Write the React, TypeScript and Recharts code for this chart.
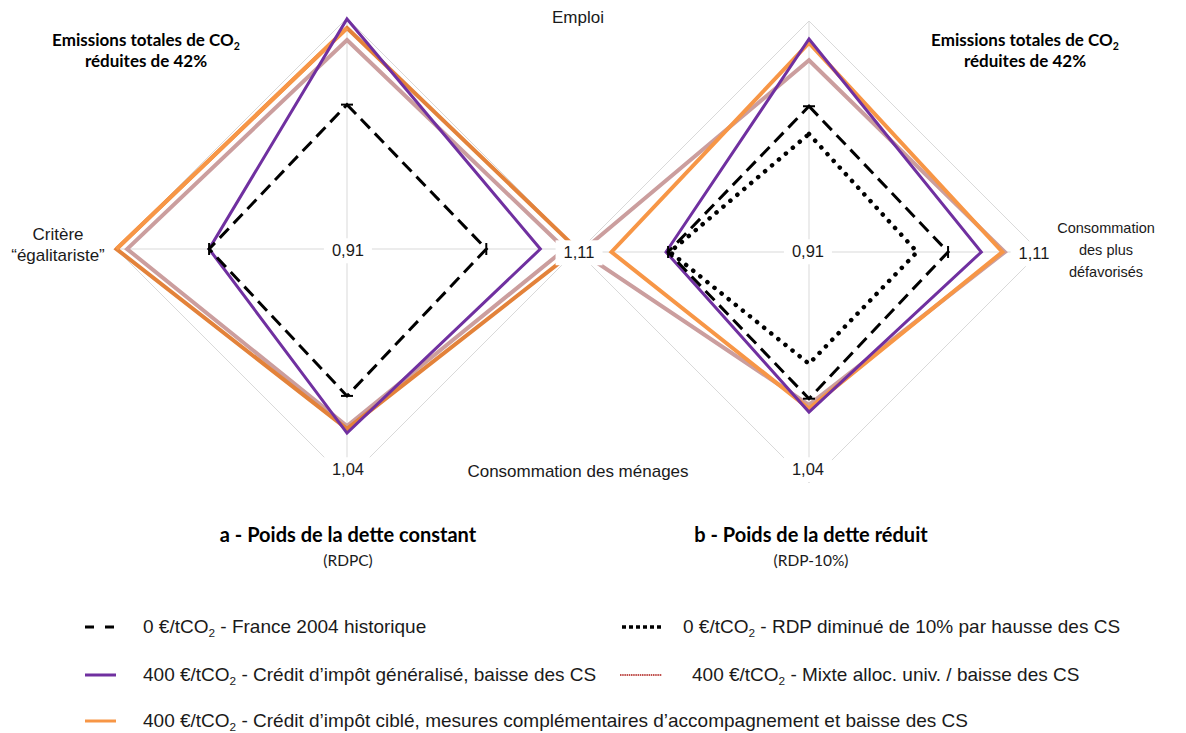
import React from "react";
import { RadarChart, Radar, PolarGrid, PolarAngleAxis, PolarRadiusAxis } from "recharts";

// four criteria, clockwise from the top
const axes = ["Emploi", "Consommation des plus défavorisés", "Consommation des ménages", "Critère “égalitariste”"];

// values, as % of the outer ring (centre = 0,91)
const aHisto = [62.5, 60.3, 63.6, 59.7];
const aGeneral = [99.6, 83.7, 79.7, 59.7];
const aMixte = [90.5, 94.4, 76.6, 95.2];
const aCible = [95.7, 99.6, 77.9, 99.8];

const bHisto = [63.1, 60.2, 63.5, 61.0];
const bRdp = [51.1, 46.8, 48.4, 60.2];
const bGeneral = [92.2, 74.6, 69.3, 61.9];
const bMixte = [83.0, 84.8, 66.2, 98.7];
const bCible = [90.5, 83.7, 67.8, 85.5];

const legendItems = [
  { key: "histo", pre: "0 €/tCO", post: " - France 2004 historique" },
  { key: "rdp", pre: "0 €/tCO", post: " - RDP diminué de 10% par hausse des CS" },
  { key: "general", pre: "400 €/tCO", post: " - Crédit d’impôt généralisé, baisse des CS" },
  { key: "mixte", pre: "400 €/tCO", post: " - Mixte alloc. univ. / baisse des CS" },
  { key: "cible", pre: "400 €/tCO", post: " - Crédit d’impôt ciblé, mesures complémentaires d’accompagnement et baisse des CS" },
];

const dataA = axes.map((axis, i) => ({
  axis,
  histo: aHisto[i],
  general: aGeneral[i],
  mixte: aMixte[i],
  cible: aCible[i],
}));

const dataB = axes.map((axis, i) => ({
  axis,
  histo: bHisto[i],
  rdp: bRdp[i],
  general: bGeneral[i],
  mixte: bMixte[i],
  cible: bCible[i],
}));

const R = 231;
const ARIAL = "'Liberation Sans', Arial, sans-serif";
const CALIBRI = "Lato, 'Open Sans', sans-serif";
const PURPLE = "#7030A0";
const ORANGE = "#F79646";
const ORANGE_DARK = "#E3823A";
const MAUVE = "#CB9E9E";

// little perpendicular caps on the dashed series
const capDot = (props: any) => {
  const { cx, cy, index } = props;
  const h = 6;
  const horiz = index % 2 === 0;
  return (
    <line
      key={`cap-${index}`}
      x1={horiz ? cx - h : cx}
      y1={horiz ? cy : cy - h}
      x2={horiz ? cx + h : cx}
      y2={horiz ? cy : cy + h}
      stroke="#000"
      strokeWidth={2}
    />
  );
};

// orange polygon whose upper-left side is lighter than the rest (as in panel a)
const twoTone = (props: any) => {
  const pts = props.points || [];
  if (!pts.length) return <g />;
  const d = pts.map((p: any, i: number) => `${i ? "L" : "M"}${p.x},${p.y}`).join(" ") + " Z";
  const last = pts[pts.length - 1];
  const first = pts[0];
  return (
    <g>
      <path d={d} fill="none" stroke={ORANGE_DARK} strokeWidth={4} />
      <path d={`M${last.x},${last.y} L${first.x},${first.y}`} fill="none" stroke={ORANGE} strokeWidth={4} />
    </g>
  );
};

function Panel({ data, cx, cy, rdp, two }: { data: any[]; cx: number; cy: number; rdp?: boolean; two?: boolean }) {
  return (
    <div style={{ position: "absolute", left: 0, top: 0 }}>
      <RadarChart width={1186} height={500} data={data} cx={cx} cy={cy} outerRadius={R} margin={{ top: 0, right: 0, bottom: 0, left: 0 }}>
        <PolarGrid gridType="polygon" polarRadius={[R]} stroke="#D9D9D9" strokeWidth={1} />
        <PolarAngleAxis dataKey="axis" tick={false} axisLine={false} tickLine={false} />
        <PolarRadiusAxis domain={[0, 100]} tick={false} axisLine={false} tickLine={false} />
        <Radar dataKey="mixte" stroke={MAUVE} strokeWidth={4} fill="none" fillOpacity={0} dot={false} isAnimationActive={false} />
        {two ? (
          <Radar dataKey="cible" shape={twoTone} stroke={ORANGE} fill="none" dot={false} isAnimationActive={false} />
        ) : (
          <Radar dataKey="cible" stroke={ORANGE} strokeWidth={4} fill="none" fillOpacity={0} dot={false} isAnimationActive={false} />
        )}
        <Radar dataKey="general" stroke={PURPLE} strokeWidth={3} fill="none" fillOpacity={0} dot={false} isAnimationActive={false} />
        <Radar dataKey="histo" stroke="#000" strokeWidth={3} strokeDasharray="13 7" fill="none" fillOpacity={0} dot={capDot} isAnimationActive={false} />
        {rdp && (
          <Radar dataKey="rdp" stroke="#000" strokeWidth={4.5} strokeDasharray="0.1 9" strokeLinecap="round" fill="none" fillOpacity={0} dot={false} isAnimationActive={false} />
        )}
      </RadarChart>
    </div>
  );
}

function Txt({ x, y, children, style }: { x: number; y: number; children: React.ReactNode; style?: React.CSSProperties }) {
  return (
    <div
      style={{
        position: "absolute",
        left: x,
        top: y,
        transform: "translate(-50%, -50%)",
        whiteSpace: "nowrap",
        textAlign: "center",
        color: "#1a1a1a",
        fontFamily: ARIAL,
        fontSize: 17,
        lineHeight: 1.3,
        ...style,
      }}
    >
      {children}
    </div>
  );
}

const numStyle: React.CSSProperties = { background: "#fff", padding: "2px 8px", fontSize: 16.5 };
const noteStyle: React.CSSProperties = { fontFamily: CALIBRI, fontWeight: 700, fontSize: 17, lineHeight: "21px", color: "#000" };
const sub: React.CSSProperties = { fontSize: "0.62em", verticalAlign: "-0.35em", lineHeight: 0 };

function Sample({ kind }: { kind: string }) {
  const y = 6;
  let line: React.ReactNode = null;
  if (kind === "histo") line = <line x1={7} y1={y} x2={42} y2={y} stroke="#000" strokeWidth={3} strokeDasharray="9 11" />;
  if (kind === "rdp") line = <line x1={2} y1={y} x2={44} y2={y} stroke="#000" strokeWidth={3.5} strokeDasharray="4 3" />;
  if (kind === "general") line = <line x1={7} y1={y} x2={38} y2={y} stroke={PURPLE} strokeWidth={3} />;
  if (kind === "mixte") line = <line x1={0} y1={y} x2={42} y2={y} stroke="#C0504D" strokeWidth={2} strokeDasharray="1.5 0.7" />;
  if (kind === "cible") line = <line x1={7} y1={y} x2={38} y2={y} stroke={ORANGE} strokeWidth={3} />;
  return (
    <svg width={46} height={12} style={{ position: "absolute", left: 0, top: -6 }}>
      {line}
    </svg>
  );
}

function LegendRow({ x, y, textX, item }: { x: number; y: number; textX: number; item: (typeof legendItems)[number] }) {
  return (
    <div style={{ position: "absolute", left: x, top: y }}>
      <Sample kind={item.key} />
      <div
        style={{
          position: "absolute",
          left: textX - x,
          top: 0,
          transform: "translateY(-50%)",
          whiteSpace: "nowrap",
          fontFamily: ARIAL,
          fontSize: 19,
          color: "#1a1a1a",
        }}
      >
        {item.pre}
        <sub style={sub}>2</sub>
        {item.post}
      </div>
    </div>
  );
}

export default function App() {
  const byKey = (k: string) => legendItems.find((l) => l.key === k)!;
  return (
    <div style={{ position: "relative", width: 1186, height: 733, background: "#fff", overflow: "hidden" }}>
      <style>{"body{margin:0}"}</style>
      <Panel data={dataA} cx={347} cy={249} two />
      <Panel data={dataB} cx={809} cy={252} rdp />

      <Txt x={578} y={18}>Emploi</Txt>
      <Txt x={146} y={50} style={noteStyle}>
        Emissions totales de CO<sub style={sub}>2</sub>
        <br />
        réduites de 42%
      </Txt>
      <Txt x={1025} y={50} style={noteStyle}>
        Emissions totales de CO<sub style={sub}>2</sub>
        <br />
        réduites de 42%
      </Txt>
      <Txt x={58} y={245} style={{ lineHeight: "21px" }}>
        Critère
        <br />
        “égalitariste”
      </Txt>
      <Txt x={1106} y={250} style={{ lineHeight: "22px", fontSize: 14.5 }}>
        Consommation
        <br />
        des plus
        <br />
        défavorisés
      </Txt>
      <Txt x={578} y={472}>Consommation des ménages</Txt>

      <Txt x={348} y={251} style={numStyle}>0,91</Txt>
      <Txt x={808} y={252} style={numStyle}>0,91</Txt>
      <Txt x={579} y={253} style={numStyle}>1,11</Txt>
      <Txt x={1034} y={254} style={numStyle}>1,11</Txt>
      <Txt x={348} y={470} style={numStyle}>1,04</Txt>
      <Txt x={808} y={470} style={numStyle}>1,04</Txt>

      <Txt x={348} y={534} style={{ fontFamily: CALIBRI, fontWeight: 700, fontSize: 20, color: "#000" }}>
        a - Poids de la dette constant
      </Txt>
      <Txt x={348} y={560} style={{ fontFamily: CALIBRI, fontSize: 15.5 }}>(RDPC)</Txt>
      <Txt x={811} y={534} style={{ fontFamily: CALIBRI, fontWeight: 700, fontSize: 20, color: "#000" }}>
        b - Poids de la dette réduit
      </Txt>
      <Txt x={811} y={560} style={{ fontFamily: CALIBRI, fontSize: 15.5 }}>(RDP-10%)</Txt>

      <LegendRow x={78} y={627} textX={143} item={byKey("histo")} />
      <LegendRow x={78} y={675} textX={143} item={byKey("general")} />
      <LegendRow x={78} y={721} textX={143} item={byKey("cible")} />
      <LegendRow x={620} y={627} textX={683} item={byKey("rdp")} />
      <LegendRow x={620} y={675} textX={692} item={byKey("mixte")} />
    </div>
  );
}
